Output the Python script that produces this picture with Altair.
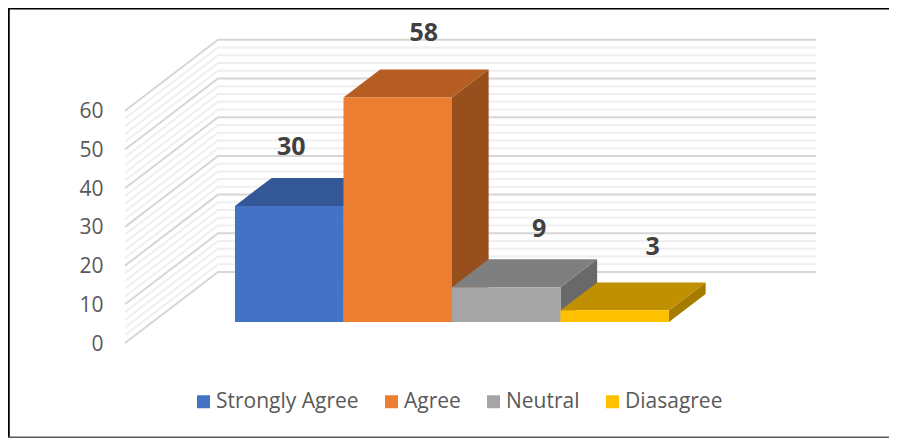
import altair as alt
import pandas as pd

# --- values
categories = ["Strongly Agree", "Agree", "Neutral", "Diasagree"]
values = [30, 58, 9, 3]
axis_ticks = [0, 10, 20, 30, 40, 50, 60]
minor_ticks = [v for v in range(0, 61, 2) if v % 10]

# --- styles
front_colors = ["#4472C4", "#ED7D31", "#A5A5A5", "#FFC000"]
top_colors = ["#335797", "#B55D22", "#7F7F7F", "#C09000"]
side_colors = ["#2B4A80", "#97501D", "#696969", "#A67C00"]
label_dx = [2, 26, 33, 38]
label_dy = [-58.5, -64.5, -58.5, -63]
FONT = "Open Sans"

# --- oblique projection of the 3D box (units: bar widths, value units)
W, H = 881, 430
PX_U, PX_V = 108.5, 3.87
DX, DY = 93 / PX_U, 71 / PX_V
U_MAX = 598 / PX_U
Z0, Z1 = 0.296, 0.69
U0 = 0.76
TICK_U = -21.5 / PX_U
x_scale = alt.Scale(domain=[(8 - 125) / PX_U, (8 + W - 125) / PX_U], nice=False, zero=False)
y_scale = alt.Scale(domain=[(343 - 8 - H) / PX_V, (343 - 8) / PX_V], nice=False, zero=False)
color_scale = alt.Scale(domain=categories, range=front_colors)


def px(u, z):
    return u + z * DX


def py(v, z):
    return v + z * DY


def grid_frame(ticks):
    rows = []
    for v in ticks:
        for i, (u, z) in enumerate([(0, 0), (0, 1), (U_MAX, 1)]):
            rows.append({"tick": v, "o": i, "sx": px(u, z), "sy": py(v, z)})
    return pd.DataFrame(rows)


X = lambda f="sx": alt.X(f, type="quantitative", scale=x_scale, axis=None)
Y = lambda f="sy": alt.Y(f, type="quantitative", scale=y_scale, axis=None)

layers = []

# value labels on the front edge of the side wall
layers.append(
    alt.Chart(pd.DataFrame({"sy": axis_ticks, "sx": [TICK_U] * len(axis_ticks)}))
    .mark_text(font=FONT, fontSize=21, color="#595959", align="right", baseline="middle", dy=1.5)
    .encode(x=X(), y=Y(), text="sy:Q")
)

for ticks, col in ((minor_ticks, "#EFEFEF"), (axis_ticks, "#D6D6D6")):
    layers.append(
        alt.Chart(grid_frame(ticks))
        .mark_line(stroke=col, strokeWidth=2)
        .encode(x=X(), y=Y(), detail="tick:N", order="o:Q")
    )

for i, (cat, val) in enumerate(zip(categories, values)):
    u0, u1 = U0 + i, U0 + i + 1
    side = pd.DataFrame(
        {
            "sx": [px(u1, Z0), px(u1, Z1)],
            "top": [py(val, Z0), py(val, Z1)],
            "bot": [py(0, Z0), py(0, Z1)],
        }
    )
    layers.append(
        alt.Chart(side)
        .mark_area(color=side_colors[i])
        .encode(x=X(), y=Y("top"), y2="bot")
    )
    top = pd.DataFrame(
        {
            "sy": [py(val, Z0), py(val, Z1)],
            "left": [px(u0, Z0), px(u0, Z1)],
            "right": [px(u1, Z0), px(u1, Z1)],
        }
    )
    layers.append(
        alt.Chart(top)
        .mark_area(color=top_colors[i], orient="horizontal")
        .encode(y=Y(), x=X("left"), x2="right")
    )
    front = pd.DataFrame(
        [
            {
                "cat": cat,
                "a": px(u0, Z0),
                "b": px(u1, Z0),
                "t": py(val, Z0),
                "bot": py(0, Z0),
            }
        ]
    )
    layers.append(
        alt.Chart(front)
        .mark_rect()
        .encode(
            x=X("a"),
            x2="b",
            y=Y("t"),
            y2="bot",
            color=alt.Color(
                "cat:N",
                scale=color_scale,
                legend=alt.Legend(
                    title=None,
                    orient="none",
                    legendX=185,
                    legendY=383,
                    direction="horizontal",
                    columns=4,
                    columnPadding=22,
                    symbolType="square",
                    symbolSize=169,
                    symbolStrokeWidth=0,
                    labelFont=FONT,
                    labelFontSize=21,
                    labelColor="#595959",
                    labelOffset=2,
                    labelLimit=300,
                ),
            ),
        )
    )
    label = pd.DataFrame(
        [{"sx": px(u0 + 0.5, Z0), "sy": py(val, Z0), "txt": str(val)}]
    )
    layers.append(
        alt.Chart(label)
        .mark_text(
            font=FONT,
            fontSize=25,
            fontWeight="bold",
            color="#404040",
            dx=label_dx[i],
            dy=label_dy[i],
        )
        .encode(x=X(), y=Y(), text="txt:N")
    )

# frame of the picture: left, top and bottom edges
frame = [
    alt.Chart(pd.DataFrame({"e": [0]}))
    .mark_rule(color="#000000", strokeWidth=2.5)
    .encode(x=alt.value(0.5), y=alt.value(0), y2=alt.value(H)),
    alt.Chart(pd.DataFrame({"e": [0]}))
    .mark_rule(color="#000000", strokeWidth=2)
    .encode(y=alt.value(0.5), x=alt.value(0), x2=alt.value(W)),
    alt.Chart(pd.DataFrame({"e": [0]}))
    .mark_rule(color="#595959", strokeWidth=1.5)
    .encode(y=alt.value(H - 0.8), x=alt.value(0), x2=alt.value(W)),
]

chart = (
    alt.layer(*layers, *frame)
    .properties(
        width=W,
        height=H,
        padding=0,
        autosize=alt.AutoSizeParams(type="none"),
        background="#FFFFFF",
    )
    .configure_view(stroke=None)
)

chart.save("out.html", embed_options={"renderer": "svg", "actions": False})
